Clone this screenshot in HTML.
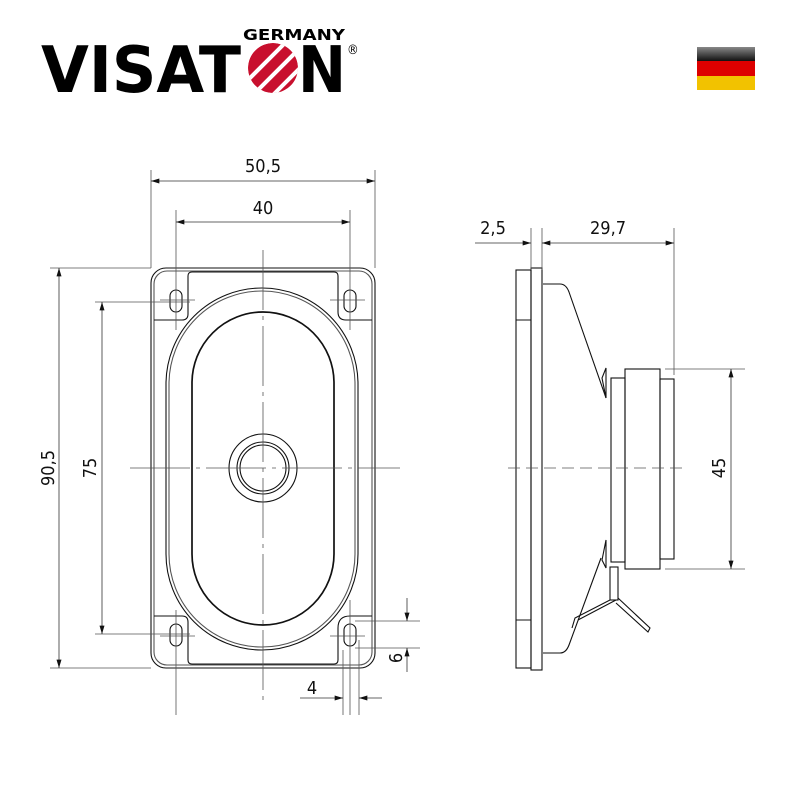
<!DOCTYPE html>
<html><head><meta charset="utf-8"><style>
html,body{margin:0;padding:0;background:#fff;}
svg{display:block}
text{font-family:"DejaVu Sans Condensed","Liberation Sans",sans-serif;}
</style></head><body>
<svg width="800" height="800" viewBox="0 0 800 800" xmlns="http://www.w3.org/2000/svg">
<defs>
<marker id="a" viewBox="0 0 10 6" refX="10" refY="3" markerWidth="12" markerHeight="5" orient="auto-start-reverse" markerUnits="userSpaceOnUse"><path d="M0,0L10,3L0,6z" fill="#111"/></marker>
<linearGradient id="fb" x1="0" y1="0" x2="0" y2="1"><stop offset="0" stop-color="#888"/><stop offset="1" stop-color="#111"/></linearGradient>
<clipPath id="oc"><circle cx="273" cy="68" r="25"/></clipPath>
</defs>
<!-- Logo -->
<text x="41" y="92" font-family="Liberation Sans,sans-serif" font-weight="bold" font-size="64" textLength="200" lengthAdjust="spacingAndGlyphs" fill="#000">VISAT</text>
<g clip-path="url(#oc)">
<circle cx="273" cy="68" r="25" fill="#c8102e"/>
<path d="M240,88L290,38M250,98L300,48M260,108L310,58" stroke="#fff" stroke-width="4"/>
</g>
<text x="298" y="92" font-family="Liberation Sans,sans-serif" font-weight="bold" font-size="64" textLength="48" lengthAdjust="spacingAndGlyphs" fill="#000">N</text>
<text x="243" y="40" font-family="Liberation Sans,sans-serif" font-weight="bold" font-size="15" textLength="102" lengthAdjust="spacingAndGlyphs" fill="#000">GERMANY</text>
<text x="347" y="54" font-family="Liberation Sans,sans-serif" font-size="13" fill="#000">®</text>
<!-- Flag -->
<rect x="697" y="47" width="58" height="14" fill="url(#fb)"/>
<rect x="697" y="61" width="58" height="15" fill="#dd0000"/>
<rect x="697" y="76" width="58" height="14" fill="#f2c200"/>

<g fill="none" stroke="#111" stroke-width="1.1">
<!-- Front view -->
<rect x="151" y="268" width="224" height="400" rx="15"/>
<rect x="154" y="271" width="218" height="394" rx="13" stroke="#555"/>
<path d="M154,320H182Q188,320 188,314V276Q188,272 192,272H334Q338,272 338,276V312Q338,320 346,320H372"/>
<path d="M154,616H182Q188,616 188,622V660Q188,664 192,664H334Q338,664 338,660V628Q338,616 350,616H372"/>
<rect x="166" y="288" width="192" height="362" rx="96" ry="96"/>
<rect x="169" y="291" width="186" height="356" rx="93" ry="93" stroke="#555"/>
<rect x="192" y="312" width="142" height="313" rx="71" ry="71" stroke-width="1.7"/>
<circle cx="263" cy="468" r="34"/>
<circle cx="263" cy="468" r="26"/>
<circle cx="263" cy="468" r="23"/>
<rect x="170" y="290" width="12" height="22" rx="6"/>
<rect x="344" y="290" width="12" height="22" rx="6"/>
<rect x="170" y="624" width="12" height="22" rx="6"/>
<rect x="344" y="624" width="12" height="22" rx="6"/>

<!-- Side view -->
<rect x="516" y="270" width="15" height="398"/>
<rect x="531" y="268" width="11" height="402"/>
<path d="M516,320H531M516,620H531"/>
<path d="M543,284H560Q566,284 569,292L606,398"/>
<path d="M543,653H560Q566,653 569,645L601,558"/>
<path d="M606,368V398L602,378Z"/>
<path d="M606,540V568L602,560Z"/>
<rect x="611" y="378" width="14" height="184"/>
<rect x="625" y="369" width="35" height="200"/>
<rect x="660" y="379" width="14" height="180"/>
<rect x="610" y="567" width="8" height="33"/>
<path d="M610,600L575,618L572,628M616,600L578,620"/>
<path d="M618,598L650,628L648,632L616,603"/>
</g>

<g stroke="#555" stroke-width="0.8" fill="none">
<path d="M263,250V700" stroke-dasharray="60,6,4,6"/>
<path d="M130,468H400" stroke-dasharray="60,6,4,6"/>
<path d="M508,468H685" stroke-dasharray="12,6"/>
<path d="M176,210V330M350,210V330M176,610V715M350,600V715M343,650V715M359,640V715"/>
<path d="M151,170V268M375,170V268"/>
<path d="M50,268H151M50,668H151M95,302H190M95,634H190"/>
<path d="M160,300H195M330,300H365M160,636H195M330,636H365"/>
<path d="M355,621H420M355,648H420"/>
<path d="M531,228V270M542,228V270M674,228V375"/>
<path d="M665,369H745M665,569H745"/>
</g>
<g stroke="#333" stroke-width="0.8" fill="none">
<path d="M151,181H375" marker-start="url(#a)" marker-end="url(#a)"/>
<path d="M176,222H350" marker-start="url(#a)" marker-end="url(#a)"/>
<path d="M59,268V668" marker-start="url(#a)" marker-end="url(#a)"/>
<path d="M102,302V634" marker-start="url(#a)" marker-end="url(#a)"/>
<path d="M407,598V621" marker-end="url(#a)"/>
<path d="M407,672V648" marker-end="url(#a)"/>
<path d="M300,698H343" marker-end="url(#a)"/>
<path d="M382,698H359" marker-end="url(#a)"/>
<path d="M475,243H531" marker-end="url(#a)"/>
<path d="M542,243H674" marker-start="url(#a)" marker-end="url(#a)"/>
<path d="M731,369V569" marker-start="url(#a)" marker-end="url(#a)"/>
</g>
<g font-size="18" fill="#111" text-anchor="middle">
<text x="263" y="172">50,5</text>
<text x="263" y="214">40</text>
<text x="312" y="694">4</text>
<text x="493" y="234">2,5</text>
<text x="608" y="234">29,7</text>
<text transform="translate(54,468) rotate(-90)">90,5</text>
<text transform="translate(96,468) rotate(-90)">75</text>
<text transform="translate(402,658) rotate(-90)">6</text>
<text transform="translate(725,468) rotate(-90)">45</text>
</g>
</svg>
</body></html>
